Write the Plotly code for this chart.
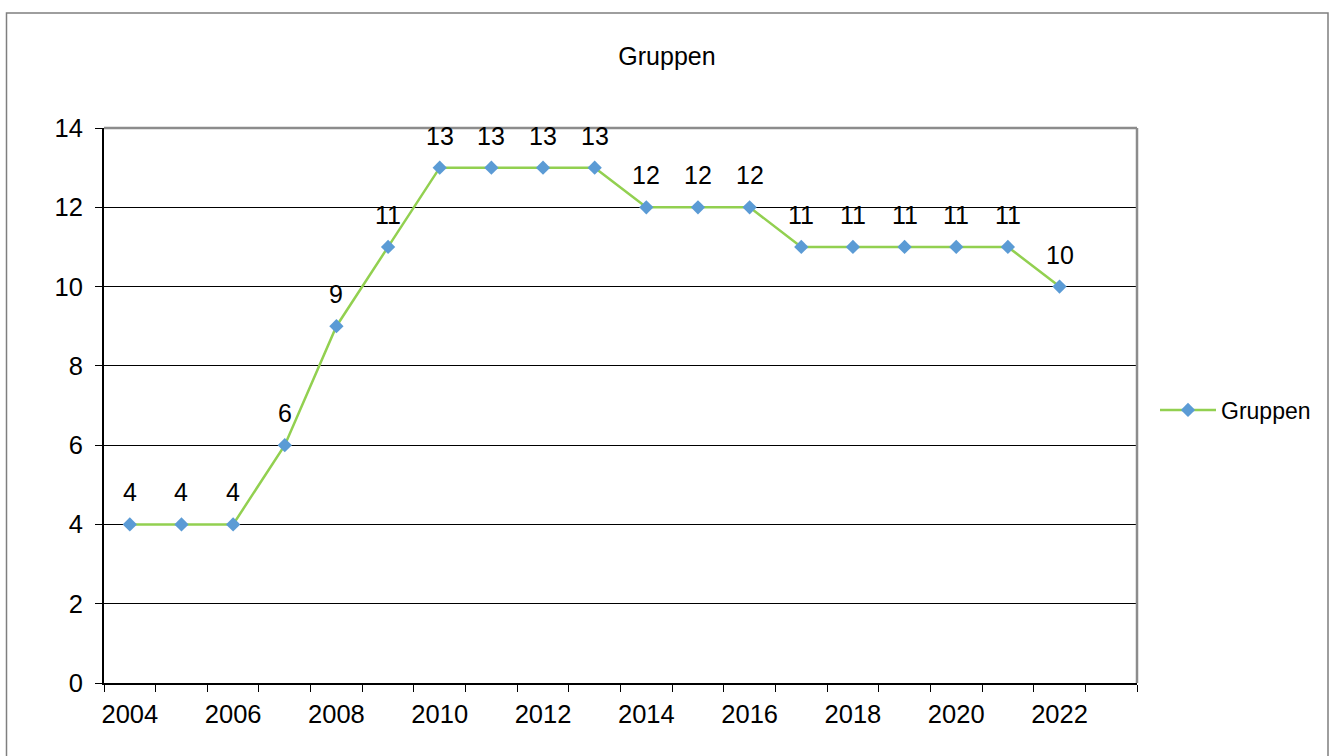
import plotly.graph_objects as go

years = list(range(2004, 2023))
values = [4, 4, 4, 6, 9, 11, 13, 13, 13, 13, 12, 12, 12, 11, 11, 11, 11, 11, 10]
tick_labels = [str(y) for y in range(2004, 2023, 2)]
tick_years = list(range(2004, 2023, 2))
series_name = "Gruppen"
chart_title = "Gruppen"

FONT = "Liberation Sans, Arial, sans-serif"
W, H = 1330, 756
L, R, T, B = 104, 193, 128, 73
pw, ph = W - L - R, H - T - B

def px_x(p):
    return (p - L) / pw

def px_y(p):
    return (H - B - p) / ph

fig = go.Figure()
fig.add_trace(go.Scatter(
    x=years, y=values, mode="lines+markers", name=series_name,
    line=dict(color="#92D050", width=2.5),
    marker=dict(symbol="diamond", size=11, color="#5B9BD5"),
    cliponaxis=False,
))

annotations = [
    dict(x=x, y=v, text=str(v), showarrow=False, yshift=32,
         xanchor="center", yanchor="middle",
         font=dict(family=FONT, size=25, color="black"))
    for x, v in zip(years, values)
]

minor_vals = [y - 0.5 for y in range(2004, 2025)]

fig.update_layout(
    width=W, height=H,
    margin=dict(l=L, r=R, t=T, b=B, pad=0),
    paper_bgcolor="white", plot_bgcolor="white",
    font=dict(family=FONT, size=25, color="black"),
    title=dict(text=chart_title, x=667 / W, y=1 - 56 / H, xanchor="center",
               yanchor="middle", xref="container", yref="container",
               font=dict(family=FONT, size=25, color="black")),
    showlegend=True,
    legend=dict(x=px_x(1155), y=px_y(410), xanchor="left", yanchor="middle",
                font=dict(family=FONT, size=23, color="black"),
                itemwidth=56, bgcolor="rgba(0,0,0,0)", borderwidth=0),
    xaxis=dict(
        range=[2003.5, 2023.5], tickmode="array", tickvals=tick_years,
        ticktext=tick_labels, ticks="", showgrid=False, zeroline=False,
        showline=True, linecolor="black", linewidth=2,
        tickfont=dict(family=FONT, size=25.5, color="black"),
        ticklabelstandoff=7,
        minor=dict(tickmode="array", tickvals=minor_vals, ticks="outside",
                   ticklen=7, tickcolor="black", tickwidth=1, showgrid=False),
        fixedrange=True,
    ),
    yaxis=dict(
        range=[0, 14], tickmode="linear", tick0=0, dtick=2,
        ticks="outside", ticklen=7, tickcolor="black", tickwidth=1,
        showgrid=True, gridcolor="black", gridwidth=1, zeroline=False,
        showline=True, linecolor="black", linewidth=2,
        tickfont=dict(family=FONT, size=25.5, color="black"),
        ticklabelstandoff=7,
        fixedrange=True,
    ),
    annotations=annotations,
    shapes=[
        dict(type="line", xref="paper", yref="paper", x0=0, x1=1, y0=1, y1=1,
             line=dict(color="#8C8C8C", width=2.5), layer="above"),
        dict(type="line", xref="paper", yref="paper", x0=1, x1=1, y0=0, y1=1,
             line=dict(color="#8C8C8C", width=2.5), layer="above"),
        dict(type="rect", xref="paper", yref="paper",
             x0=px_x(6.5), x1=px_x(1328), y0=px_y(765), y1=px_y(13),
             line=dict(color="#7F7F7F", width=1.5), layer="below"),
    ],
)

fig.write_html("out.html")
